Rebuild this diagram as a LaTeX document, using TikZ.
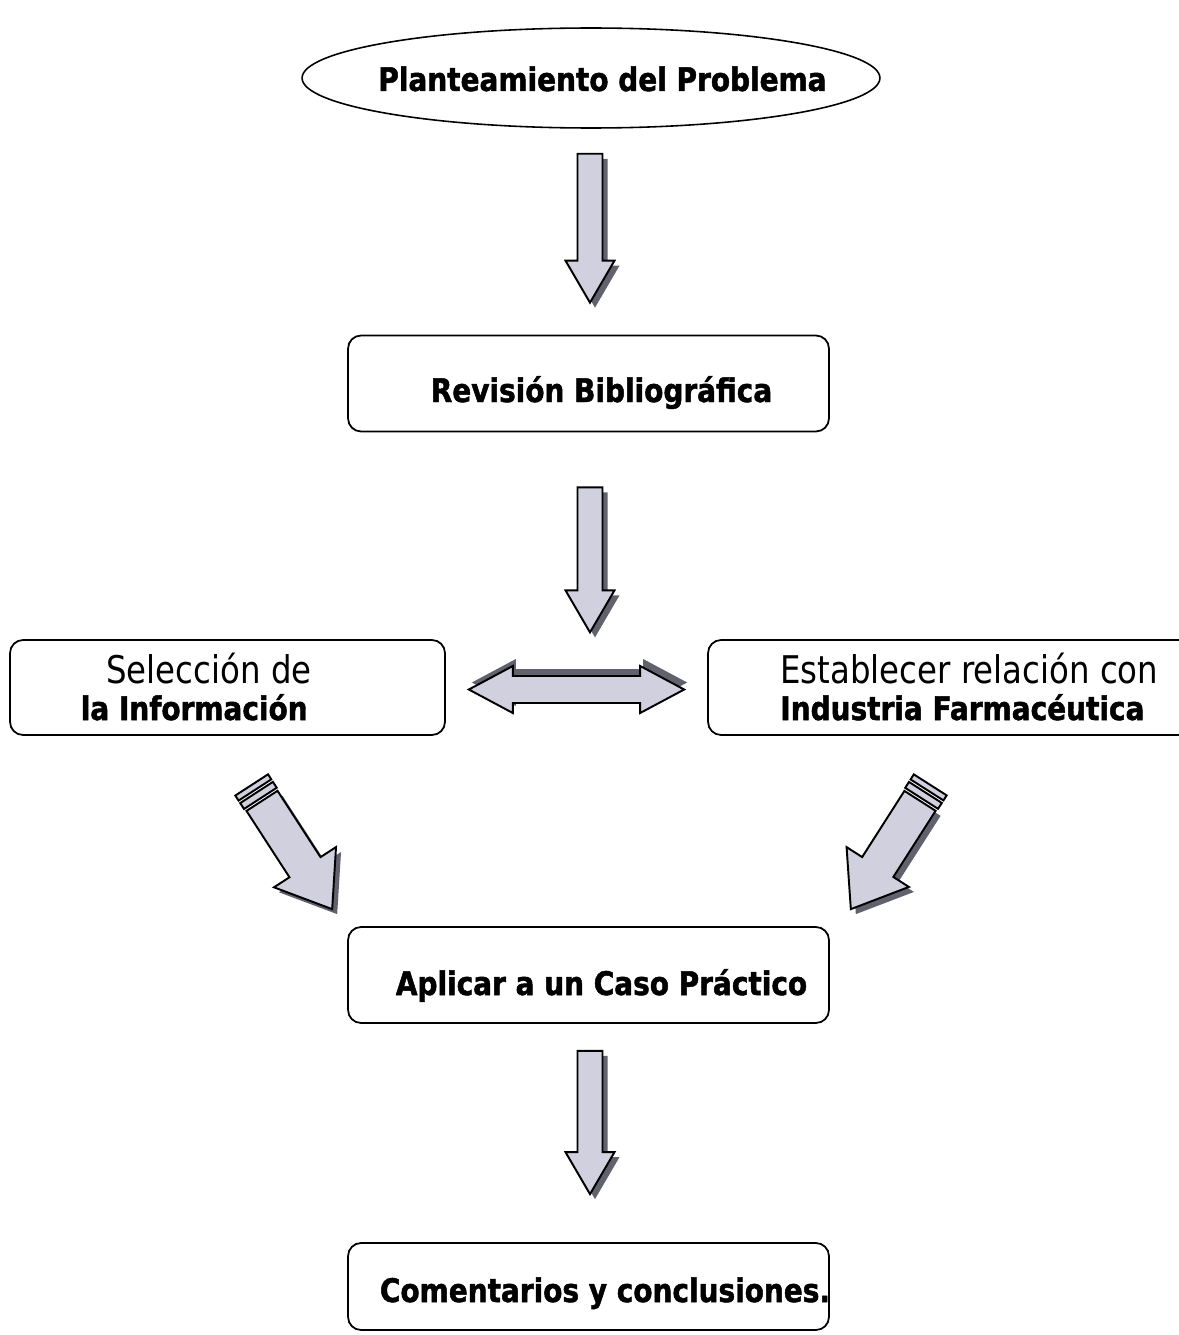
\documentclass[tikz,border=0pt]{standalone}
\usepackage{fontspec}
\newfontfamily\tahfont[FakeStretch=0.85]{DejaVu Sans}
\newfontfamily\tahbold[FakeStretch=0.86,FakeBold=1.5]{DejaVu Sans Bold}
\usetikzlibrary{calc,shapes.geometric}
\definecolor{arrowlilac}{RGB}{208,208,222}
\definecolor{arrowshade}{RGB}{98,98,110}

% block arrow: start, tip, shaft half width, head half width, head length
\newcommand{\blkarrow}[5]{%
  \coordinate (ta) at #1;
  \coordinate (tb) at #2;
  \coordinate (hb) at ($(tb)!#5!(ta)$);
  \foreach \st in {arrshade,arrbody}
    \draw[\st] ($(ta)!#3!90:(tb)$) -- ($(hb)!#3!90:(tb)$) -- ($(hb)!#4!90:(tb)$) -- (tb)
      -- ($(hb)!#4!-90:(tb)$) -- ($(hb)!#3!-90:(tb)$) -- ($(ta)!#3!-90:(tb)$) -- cycle;}
% two bands behind the tail of the last block arrow
\newcommand{\tailbands}{%
  \foreach \da/\db in {-0.06cm/-0.2cm,-0.26cm/-0.38cm}{
    \coordinate (b1) at ($(ta)!\da!(tb)$);
    \coordinate (b2) at ($(ta)!\db!(tb)$);
    \draw[arrbody] ($(b1)!0.39cm!90:(tb)$) -- ($(b2)!0.39cm!90:(tb)$)
      -- ($(b2)!0.39cm!-90:(tb)$) -- ($(b1)!0.39cm!-90:(tb)$) -- cycle;}}
% double block arrow between (da) and (db)
\newcommand{\dblpath}{(da) -- ($(ha)!0.47cm!90:(db)$) -- ($(ha)!0.27cm!90:(db)$)
    -- ($(hb)!0.27cm!-90:(da)$) -- ($(hb)!0.47cm!-90:(da)$) -- (db)
    -- ($(hb)!0.47cm!90:(da)$) -- ($(hb)!0.27cm!90:(da)$)
    -- ($(ha)!0.27cm!-90:(db)$) -- ($(ha)!0.47cm!-90:(db)$) -- cycle}

\begin{document}
\begin{tikzpicture}[x=0.02cm,y=-0.02cm,
  boxnode/.style={draw=black,line width=1pt,rounded corners=0.26cm,inner sep=0pt,minimum height=1.92cm},
  boldtxt/.style={font=\fontsize{18.5}{21}\selectfont\tahbold,inner sep=0pt},
  regtxt/.style={font=\fontsize{21.7}{24}\selectfont\tahfont,inner sep=0pt},
  arrbody/.style={fill=arrowlilac,draw=black,line width=1.1pt},
  arrshade/.style={fill=arrowshade,draw=none,transform canvas={shift={(5,5)}}}]
\useasboundingbox (0,0) rectangle (1179,1335);

% boxes
\node[ellipse,draw=black,line width=0.9pt,minimum width=11.56cm,minimum height=2cm,inner sep=0pt] (prob) at (591,78) {};
\node[boxnode,minimum width=9.62cm] (rev) at (588.5,383.5) {};
\node[boxnode,minimum width=8.7cm,minimum height=1.9cm] (sel) at (227.5,687.5) {};
\node[boxnode,minimum width=9.74cm,minimum height=1.9cm] (est) at (951.5,687.5) {};
\node[boxnode,minimum width=9.62cm] (apl) at (588.5,975) {};
\node[boxnode,minimum width=9.62cm,minimum height=1.74cm] (com) at (588.5,1286.5) {};

% texts
\node[boldtxt,anchor=base] (probtxt) at (602.5,91) {Planteamiento del Problema};
\node[boldtxt,anchor=base] (revtxt) at (601.5,402) {Revisión Bibliográfica};
\node[regtxt,anchor=base east] (seltxta) at (312,683) {Selección de};
\node[boldtxt,anchor=base east] (seltxtb) at (308,720) {la Información};
\node[regtxt,anchor=base west] (esttxta) at (780,683) {Establecer relación con};
\node[boldtxt,anchor=base west] (esttxtb) at (780,720) {Industria Farmacéutica};
\node[boldtxt,anchor=base] (apltxt) at (601.5,995) {Aplicar a un Caso Práctico};
\node[boldtxt,anchor=base] (comtxt) at (605,1302) {Comentarios y conclusiones.};

% block arrows
\blkarrow{($(prob.south)+(-1,25)$)}{($(rev.north)+(1.5,-32)$)}{0.25cm}{0.49cm}{0.84cm}
\blkarrow{($(rev.south)+(1.5,55)$)}{($(rev.south)+(1.5,200)$)}{0.25cm}{0.49cm}{0.84cm}
\blkarrow{($(apl.south)+(1.5,27)$)}{($(com.north)+(1.5,-48)$)}{0.25cm}{0.49cm}{0.84cm}
\blkarrow{($(sel.south)+(34.5,65)$)}{($(apl.north west)+(-15,-17)$)}{0.37cm}{0.74cm}{1cm}
\tailbands
\blkarrow{($(est.south)+(-31.5,65)$)}{($(apl.north east)+(21,-17)$)}{0.37cm}{0.74cm}{1cm}
\tailbands

% double arrow between the two middle boxes
\coordinate (da) at ($(sel.east)+(23,2)$);
\coordinate (db) at ($(est.west)+(-23,2)$);
\coordinate (ha) at ($(da)!0.88cm!(db)$);
\coordinate (hb) at ($(db)!0.88cm!(da)$);
\fill[arrowshade,transform canvas={shift={(3,-7)}}] \dblpath;
\draw[arrbody] \dblpath;
\end{tikzpicture}
\end{document}
